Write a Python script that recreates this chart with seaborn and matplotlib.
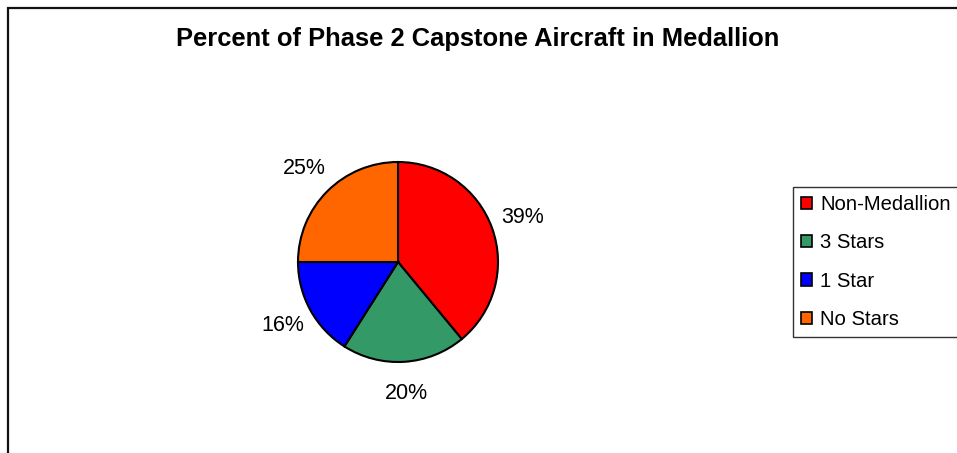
import matplotlib
matplotlib.use("Agg")
import matplotlib.pyplot as plt
import seaborn as sns
from matplotlib.patches import Rectangle

categories = ["Non-Medallion", "3 Stars", "1 Star", "No Stars"]
percents = [39, 20, 16, 25]
colors = ["#FF0000", "#339966", "#0000FF", "#FF6600"]

sns.set_theme(style="white")
plt.rcParams["font.family"] = ["Liberation Sans", "DejaVu Sans"]
plt.rcParams["text.color"] = "black"

W, H = 957, 453
fig = plt.figure(figsize=(W / 100, H / 100), dpi=100)

# pie center ~ (398, 262) px from top-left, radius ~100 px
cx, cy, r = 398, 262, 100
ax = fig.add_axes([(cx - r) / W, (H - cy - r) / H, 2 * r / W, 2 * r / H])

wedges, texts, autotexts = ax.pie(
    percents,
    colors=colors,
    startangle=90,
    counterclock=False,
    autopct="%d%%",
    pctdistance=1.32,
    wedgeprops={"edgecolor": "black", "linewidth": 1.5},
    textprops={"fontsize": 15.5, "color": "black"},
)
ax.set_xlim(-1, 1)
ax.set_ylim(-1, 1)
ax.set_aspect("equal")

fig.text(477.5 / W, 1 - 39 / H, "Percent of Phase 2 Capstone Aircraft in Medallion",
         ha="center", va="center", fontsize=18.4, fontweight="bold", color="black")

leg = fig.legend(
    wedges, categories,
    loc="upper left",
    bbox_to_anchor=(793 / W, 1 - 187 / H),
    frameon=True, fancybox=False,
    edgecolor="black", fontsize=14.6,
    handlelength=0.55, handleheight=0.55, handletextpad=0.4,
    labelspacing=0.95, borderpad=0.4, borderaxespad=0,
)
leg.get_frame().set_linewidth(1)
for t in leg.get_texts():
    t.set_color("black")
for h in leg.legend_handles:
    h.set_edgecolor("black")
    h.set_linewidth(1.2)

# outer chart border, runs off the right and bottom edges
fig.patches.append(Rectangle((8 / W, -0.2), 1.2, (H - 8) / H + 0.2,
                             transform=fig.transFigure, fill=False,
                             edgecolor="#111111", linewidth=1.6))

fig.savefig("out.png", dpi=100)
